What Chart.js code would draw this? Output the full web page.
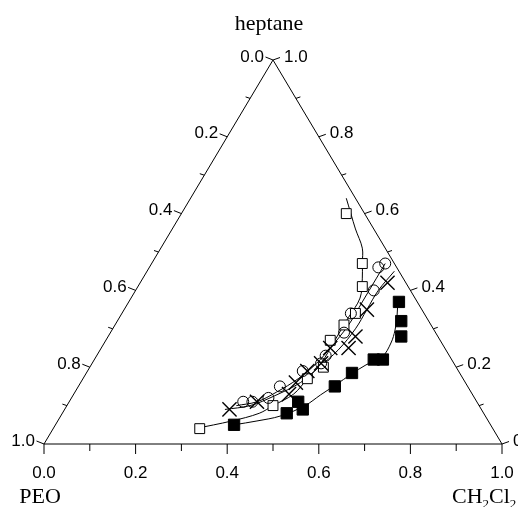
<!DOCTYPE html>
<html>
<head>
<meta charset="utf-8">
<script src="https://cdn.jsdelivr.net/npm/chart.js@4.4.1/dist/chart.umd.min.js"></script>
<style>
  body { margin: 0; background: #fff; }
  #wrap { width: 518px; height: 507px; }
</style>
</head>
<body>
<div id="wrap"><canvas id="tern"></canvas></div>
<script>
// compositions (mass fractions), PEO = 1 - CH2Cl2 - heptane
const openSqCH2Cl2  = [0.32, 0.45, 0.49, 0.51, 0.49, 0.50, 0.51, 0.49, 0.46, 0.36];
const openSqHeptane = [0.04, 0.10, 0.17, 0.20, 0.27, 0.31, 0.34, 0.41, 0.47, 0.60];
const openSqFitCH2Cl2  = [0.31, 0.38, 0.43, 0.45, 0.48, 0.49, 0.50, 0.50, 0.50, 0.50, 0.48, 0.46, 0.44, 0.40, 0.37, 0.34];
const openSqFitHeptane = [0.04, 0.06, 0.08, 0.10, 0.13, 0.17, 0.21, 0.27, 0.33, 0.38, 0.43, 0.47, 0.51, 0.56, 0.60, 0.64];

const circleCH2Cl2  = [0.38, 0.40, 0.43, 0.44, 0.47, 0.50, 0.50, 0.51, 0.50, 0.52, 0.50, 0.51];
const circleHeptane = [0.11, 0.11, 0.12, 0.15, 0.19, 0.21, 0.23, 0.29, 0.34, 0.40, 0.46, 0.47];
const circleFitCH2Cl2  = [0.37, 0.41, 0.44, 0.47, 0.49, 0.50, 0.51, 0.51, 0.51, 0.51];
const circleFitHeptane = [0.10, 0.11, 0.135, 0.17, 0.21, 0.25, 0.31, 0.37, 0.43, 0.47];

const crossCH2Cl2  = [0.36, 0.41, 0.47, 0.47, 0.48, 0.50, 0.50, 0.54, 0.54, 0.53, 0.54];
const crossHeptane = [0.09, 0.11, 0.13, 0.16, 0.19, 0.21, 0.25, 0.25, 0.28, 0.35, 0.42];
const crossFitCH2Cl2  = [0.35, 0.40, 0.44, 0.48, 0.50, 0.52, 0.53, 0.53, 0.53, 0.54];
const crossFitHeptane = [0.09, 0.10, 0.125, 0.16, 0.20, 0.245, 0.30, 0.35, 0.40, 0.45];

const filledCH2Cl2  = [0.39, 0.49, 0.50, 0.52, 0.56, 0.58, 0.61, 0.63, 0.64, 0.62, 0.59];
const filledHeptane = [0.05, 0.08, 0.11, 0.09, 0.15, 0.185, 0.22, 0.22, 0.28, 0.32, 0.37];
const filledFitCH2Cl2  = [0.39, 0.435, 0.48, 0.52, 0.54, 0.56, 0.58, 0.60, 0.625, 0.626, 0.618, 0.603, 0.585];
const filledFitHeptane = [0.05, 0.06, 0.073, 0.10, 0.128, 0.154, 0.182, 0.206, 0.227, 0.263, 0.297, 0.336, 0.375];

const majorTicks = ['0.0', '0.2', '0.4', '0.6', '0.8', '1.0'];
const minorTicks = [0.1, 0.3, 0.5, 0.7, 0.9];

// ternary (CH2Cl2, heptane) -> cartesian, heptane corner on top
function toXY(cArr, hArr) {
  return cArr.map((c, i) => ({ x: c + hArr[i] / 2, y: hArr[i] }));
}

function markers(c, h, style, radius, fill, bw) {
  return {
    data: toXY(c, h), showLine: false, pointStyle: style, pointRadius: radius,
    pointBackgroundColor: fill, pointBorderColor: '#000', pointBorderWidth: bw || 1
  };
}
function curve(c, h) {
  return {
    data: toXY(c, h), showLine: true, pointRadius: 0, borderColor: '#000',
    borderWidth: 1, tension: 0.35, fill: false
  };
}

const ternaryFrame = {
  id: 'ternaryFrame',
  beforeDatasetsDraw(chart) {
    const ctx = chart.ctx;
    const sx = chart.scales.x, sy = chart.scales.y;
    const P = (x, y) => [sx.getPixelForValue(x), sy.getPixelForValue(y)];
    ctx.save();
    ctx.strokeStyle = '#000';
    ctx.fillStyle = '#000';
    ctx.lineWidth = 1;
    const a = P(0, 0), b = P(1, 0), t = P(0.5, 1);
    ctx.beginPath();
    ctx.moveTo(a[0], a[1]); ctx.lineTo(b[0], b[1]); ctx.lineTo(t[0], t[1]); ctx.closePath();
    ctx.stroke();

    ctx.font = '17px "Liberation Sans", Arial, sans-serif';
    // major ticks + labels
    majorTicks.forEach(lbl => {
      const v = parseFloat(lbl);
      // bottom axis: CH2Cl2
      let p = P(v, 0);
      ctx.beginPath(); ctx.moveTo(p[0], p[1]); ctx.lineTo(p[0], p[1] + 10); ctx.stroke();
      ctx.textAlign = 'center'; ctx.textBaseline = 'alphabetic';
      ctx.fillText(lbl, p[0], p[1] + 34);
      // left axis: PEO (heptane = 1 - v)
      const hl = 1 - v;
      p = P(hl / 2, hl);
      ctx.beginPath(); ctx.moveTo(p[0], p[1]); ctx.lineTo(p[0] - 7.5, p[1] - 3); ctx.stroke();
      ctx.textAlign = 'right'; ctx.textBaseline = 'middle';
      ctx.fillText(lbl, p[0] - 9, p[1] - 3);
      // right axis: heptane
      p = P(1 - v / 2, v);
      ctx.beginPath(); ctx.moveTo(p[0], p[1]); ctx.lineTo(p[0] + 7, p[1] - 2.5); ctx.stroke();
      ctx.textAlign = 'left';
      ctx.fillText(lbl, p[0] + 11, p[1] - 3);
    });
    minorTicks.forEach(v => {
      let p = P(v, 0);
      ctx.beginPath(); ctx.moveTo(p[0], p[1]); ctx.lineTo(p[0], p[1] + 7); ctx.stroke();
      p = P((1 - v) / 2, 1 - v);
      ctx.beginPath(); ctx.moveTo(p[0], p[1]); ctx.lineTo(p[0] - 4.5, p[1] - 1.5); ctx.stroke();
      p = P(1 - v / 2, v);
      ctx.beginPath(); ctx.moveTo(p[0], p[1]); ctx.lineTo(p[0] + 4.5, p[1] - 1.5); ctx.stroke();
    });

    // corner titles
    ctx.font = '22px "Liberation Serif", "Times New Roman", serif';
    ctx.textBaseline = 'alphabetic';
    ctx.textAlign = 'center';
    ctx.fillText('heptane', t[0] - 4, 30);
    ctx.fillText('PEO', a[0] - 4, 503);
    ctx.textAlign = 'left';
    let x = 452;
    ctx.fillText('CH', x, 503); x += ctx.measureText('CH').width;
    ctx.font = '13px "Liberation Serif", serif';
    ctx.fillText('2', x, 508); x += ctx.measureText('2').width;
    ctx.font = '22px "Liberation Serif", "Times New Roman", serif';
    ctx.fillText('Cl', x, 503); x += ctx.measureText('Cl').width;
    ctx.font = '13px "Liberation Serif", serif';
    ctx.fillText('2', x, 508);
    ctx.restore();
  }
};

new Chart(document.getElementById('tern'), {
  type: 'scatter',
  data: {
    datasets: [
      markers(filledCH2Cl2, filledHeptane, 'rect', 8, '#000'),
      markers(crossCH2Cl2, crossHeptane, 'crossRot', 10, '#fff', 1.4),
      markers(circleCH2Cl2, circleHeptane, 'circle', 5.5, 'rgba(255,255,255,0)'),
      markers(openSqCH2Cl2, openSqHeptane, 'rect', 7, '#fff'),
      curve(filledFitCH2Cl2, filledFitHeptane),
      curve(crossFitCH2Cl2, crossFitHeptane),
      curve(circleFitCH2Cl2, circleFitHeptane),
      curve(openSqFitCH2Cl2, openSqFitHeptane)
    ]
  },
  options: {
    responsive: true,
    maintainAspectRatio: false,
    animation: false,
    layout: { padding: { left: 44, right: 16, top: 60, bottom: 63 } },
    scales: {
      x: { type: 'linear', min: 0, max: 1, display: false },
      y: { type: 'linear', min: 0, max: 1, display: false }
    },
    plugins: { legend: { display: false }, tooltip: { enabled: false } }
  },
  plugins: [ternaryFrame]
});
</script>
</body>
</html>
